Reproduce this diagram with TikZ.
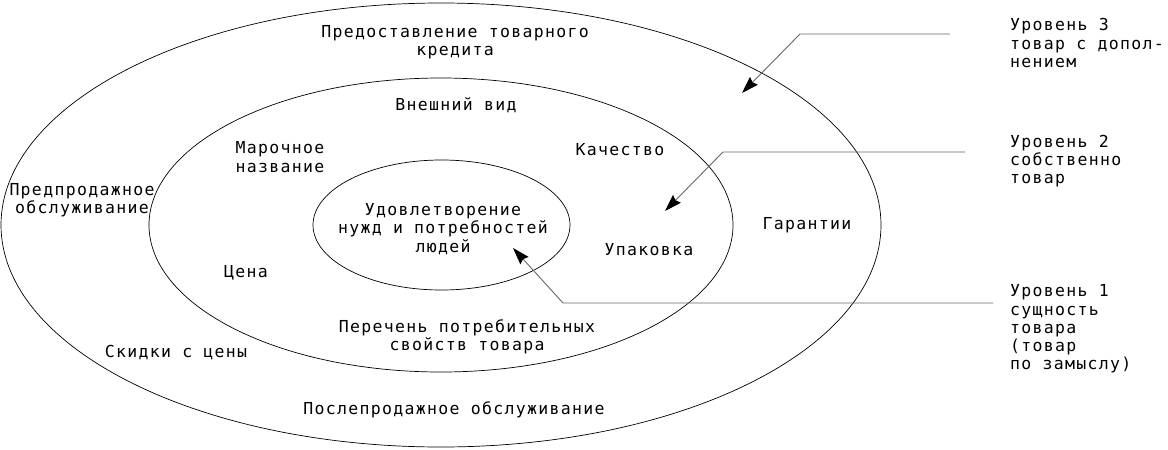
\documentclass[tikz,border=0pt]{standalone}
\usepackage{fontspec}
\setmainfont{DejaVu Sans Mono}[LetterSpace=8]
\usetikzlibrary{positioning,arrows.meta}

\begin{document}
\begin{tikzpicture}[x=1pt,y=-1pt,
		lbl/.style = {font=\fontsize{16.5}{18.3}\selectfont, align=center, inner sep=0pt},
		lvl/.style = {font=\fontsize{16.5}{18.3}\selectfont, align=left, anchor=west, inner sep=0pt},
		ptr/.style = {draw=black!60, line width=0.9pt, -{Stealth[length=17pt,width=11pt,inset=2pt,color=black]}}]
		\useasboundingbox (0,0) rectangle (1168,450);
		\draw[line width=0.7pt] (441,225) ellipse [x radius=440, y radius=222];
		\draw[line width=0.7pt] (441,225) ellipse [x radius=292, y radius=147];
		\draw[line width=0.7pt] (441.5,225) ellipse [x radius=128.5, y radius=65];
		\node[lbl] (credit) at (455,42.5) {Предоставление товарного\\кредита};
		\node[lbl] (look) at (456,105) {Внешний вид};
		\node[lbl] (brand) at (280,157) {Марочное\\название};
		\node[lbl] (quality) at (620,150) {Качество};
		\node[lbl] (presale) at (82,200) {Предпродажное\\обслуживание};
		\node[lbl] (needs) at (443,229) {Удовлетворение\\нужд и потребностей\\людей};
		\node[lbl] (warranty) at (807,225) {Гарантии};
		\node[lbl] (pack) at (649,250) {Упаковка};
		\node[lbl] (price) at (246,273) {Цена};
		\node[lbl] (props) at (467,337) {Перечень потребительных\\свойств товара};
		\node[lbl] (discount) at (176,353) {Скидки с цены};
		\node[lbl] (aftersale) at (454,410) {Послепродажное обслуживание};
		\node[lvl] (l3) at (1010,43) {Уровень 3\\товар с допол-\\нением};
		\node[lvl] (l2) at (1010,161) {Уровень 2\\собственно\\товар};
		\node[lvl] (l1) at (1010,329) {Уровень 1\\сущность\\товара\\(товар\\по замыслу)};
		\coordinate (l3s) at (950,34);
		\coordinate (l3b) at (800,34);
		\coordinate (l3t) at (742,93);
		\coordinate (l2s) at (965,152);
		\coordinate (l2b) at (723,152);
		\coordinate (l2t) at (665,211);
		\coordinate (l1s) at (993,303);
		\coordinate (l1b) at (563,303);
		\coordinate (l1t) at (513,248);
		\draw[ptr] (l3s) -- (l3b) -- (l3t);
		\draw[ptr] (l2s) -- (l2b) -- (l2t);
		\draw[ptr] (l1s) -- (l1b) -- (l1t);
	\end{tikzpicture}
\end{document}
